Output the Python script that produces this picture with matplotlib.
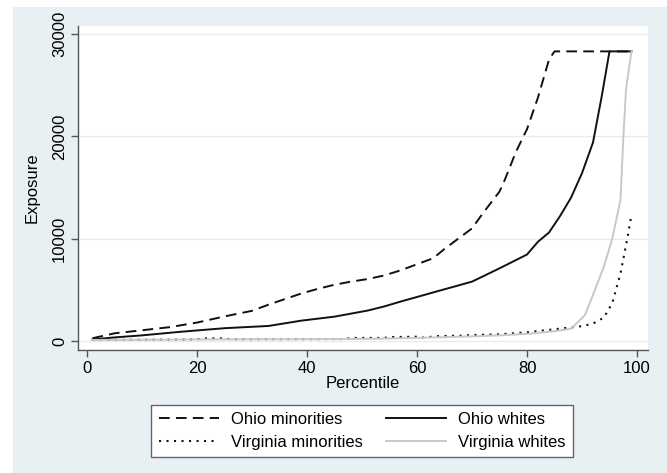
import matplotlib.pyplot as plt
from matplotlib.patches import Rectangle

# Ohio minorities (dashed)
ohio_min_pct = [1, 5, 10, 15, 20, 25, 30, 33, 36, 39, 42, 45, 48, 51, 54, 57, 60, 63, 65, 68,
                70, 72, 75, 76, 78, 80, 82, 84, 85, 99]
ohio_min_val = [270, 750, 1050, 1350, 1800, 2400, 2950, 3550, 4100, 4650, 5100, 5500, 5800, 6050,
                6400, 6900, 7500, 8100, 9000, 10200, 11000, 12500, 14600, 15800, 18500, 20700,
                23800, 27500, 28300, 28300]

# Ohio whites (solid)
ohio_wht_pct = [1, 5, 10, 17, 25, 33, 39, 45, 51, 54, 57, 60, 63.5, 67, 70, 75, 80, 82, 84, 86,
                88, 90, 92, 93.6, 95, 99]
ohio_wht_val = [150, 350, 550, 900, 1250, 1470, 1990, 2380, 2970, 3370, 3850, 4300, 4830, 5350,
                5800, 7100, 8450, 9700, 10600, 12200, 14000, 16400, 19400, 23950, 28300, 28300]

# Virginia minorities (dotted)
va_min_pct = [1, 20, 21, 25, 26, 47, 48, 54, 55, 60, 61, 64, 68, 70, 75, 80, 85, 90, 92, 94,
              95.5, 97, 98.2, 99]
va_min_val = [100, 150, 260, 260, 170, 190, 300, 300, 380, 420, 330, 480, 520, 580, 650, 850,
              1150, 1450, 1700, 2300, 3700, 6600, 9900, 12350]

# Virginia whites (light gray)
va_wht_pct = [1, 10, 20, 30, 40, 50, 60, 70, 75, 80, 85, 88, 90.5, 92, 94, 95.5, 97, 97.5, 98, 99]
va_wht_val = [100, 120, 150, 170, 180, 200, 300, 450, 550, 700, 950, 1200, 2500, 4500, 7300,
              10000, 13800, 19700, 24600, 28300]

x_ticks = [0, 20, 40, 60, 80, 100]
y_ticks = [0, 10000, 20000, 30000]

plt.rcParams['font.family'] = ['Liberation Sans', 'DejaVu Sans']
plt.rcParams['font.size'] = 12

W, H = 667, 473
panel = '#e8f0f3'
fig = plt.figure(figsize=(W / 100, H / 100), dpi=100, facecolor=panel)
# thin white margin on the top and left edges
fig.patches.append(Rectangle((0, 1 - 7 / H), 1, 7 / H, transform=fig.transFigure,
                             facecolor='white', edgecolor='none'))
fig.patches.append(Rectangle((0, 0), 13 / W, 1, transform=fig.transFigure,
                             facecolor='white', edgecolor='none'))

ax = fig.add_axes([78 / W, 1 - 350 / H, (648 - 78) / W, (350 - 26) / H])
ax.set_facecolor('white')

l1, = ax.plot(ohio_min_pct, ohio_min_val, color='#111111', lw=1.4, ls=(0, (5.5, 3.2)),
              label='Ohio minorities')
l2, = ax.plot(ohio_wht_pct, ohio_wht_val, color='#111111', lw=1.4, label='Ohio whites')
l3, = ax.plot(va_min_pct, va_min_val, color='#111111', lw=1.5, ls=(0, (1, 2.6)),
              label='Virginia minorities')
l4, = ax.plot(va_wht_pct, va_wht_val, color='#c8c8c8', lw=1.4, label='Virginia whites')

ax.set_xlim(-1.64, 102.0)
ax.set_ylim(-880, 30780)
ax.set_xticks(x_ticks)
ax.set_yticks(y_ticks)
ax.set_yticklabels([str(v) for v in y_ticks], rotation=90, va='center')
ax.grid(axis='y', color='#e4edf1', lw=1)
ax.set_axisbelow(True)

for s in ['top', 'right']:
    ax.spines[s].set_visible(False)
for s in ['left', 'bottom']:
    ax.spines[s].set_color('#555555')
    ax.spines[s].set_linewidth(1)
ax.tick_params(length=5, color='#555555', width=1, pad=3)

ax.set_xlabel('Percentile', labelpad=0)
ax.set_ylabel('Exposure')
ax.yaxis.set_label_coords(-38 / 570, 0.5)

# matplotlib fills legend columns first, so order handles to get rows OM/OW, VM/VW
leg = fig.legend([l1, l3, l2, l4], [l1.get_label(), l3.get_label(), l2.get_label(), l4.get_label()],
                 loc='center', bbox_to_anchor=((152 + 572) / 2 / W, 1 - 431 / H), ncol=2,
                 frameon=True, fancybox=False, handlelength=3.6, handletextpad=0.7,
                 columnspacing=1.4, labelspacing=0.45, borderpad=0.45, framealpha=1)
leg.get_frame().set_edgecolor('#666666')
leg.get_frame().set_facecolor('white')
leg.get_frame().set_linewidth(1)

fig.savefig('out.png', dpi=100, facecolor=fig.get_facecolor())
